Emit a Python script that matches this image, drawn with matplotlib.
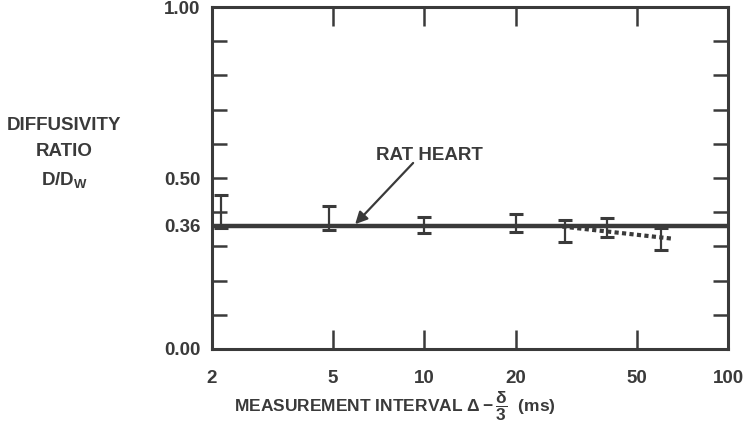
import matplotlib
matplotlib.use("Agg")
import matplotlib.pyplot as plt
import numpy as np

plt.rcParams['font.family'] = ['Liberation Sans', 'DejaVu Sans']
plt.rcParams['mathtext.fontset'] = 'custom'
plt.rcParams['mathtext.rm'] = 'Liberation Sans:bold'
plt.rcParams['mathtext.it'] = 'Liberation Sans:bold'
plt.rcParams['mathtext.bf'] = 'Liberation Sans:bold'

INK = "#3a3a3a"
FS = 13.5

# -------------------------
# Data
# -------------------------
intervals = [2.15, 4.85, 10, 20, 29, 40, 60]          # ms
upper = [0.450, 0.419, 0.387, 0.394, 0.377, 0.384, 0.353]
lower = [0.353, 0.348, 0.338, 0.341, 0.312, 0.328, 0.290]
mean_ratio = 0.36                                      # rat heart
trend_x = [28.5, 65]
trend_y = [0.358, 0.323]

x_ticks = [2, 5, 10, 20, 50, 100]
y_labels = {0.0: "0.00", 0.36: "0.36", 0.5: "0.50", 1.0: "1.00"}

upper = np.array(upper)
lower = np.array(lower)
mid = (upper + lower) / 2
half = (upper - lower) / 2

fig = plt.figure(figsize=(7.46, 4.28), dpi=100)
ax = fig.add_axes([0.2838, 0.1846, 0.9759 - 0.2838, 0.9836 - 0.1846])

ax.set_xscale('log')
ax.set_xlim(2, 100)
ax.set_ylim(0, 1)

# horizontal mean line
ax.axhline(mean_ratio, color=INK, lw=3.2, zorder=2)

# error bars
ax.errorbar(intervals, mid, yerr=half, fmt='none', ecolor=INK,
            elinewidth=1.6, capsize=5, capthick=2.2, zorder=3)

# dotted trend
ax.plot(trend_x, trend_y, color=INK, lw=3, linestyle=(0, (1, 0.8)), zorder=3)

# arrow + label
ax.annotate('', xy=(5.93, 0.365), xytext=(9.2, 0.544),
            arrowprops=dict(arrowstyle='-|>', color=INK, lw=1.6,
                            mutation_scale=18, shrinkA=0, shrinkB=0))
ax.text(10.4, 0.567, "RAT HEART", ha='center', va='center',
        fontsize=FS, fontweight='bold', color=INK)

# ticks
ax.xaxis.set_major_locator(matplotlib.ticker.FixedLocator(x_ticks))
ax.xaxis.set_minor_locator(matplotlib.ticker.NullLocator())
ax.set_xticklabels([str(t) for t in x_ticks])
ax.tick_params(axis='x', which='major', direction='in', length=14, width=1.8,
               top=True, bottom=True, labelsize=FS, pad=15, colors=INK)

y_ticks = sorted(set(np.round(np.arange(0, 1.01, 0.1), 2)) | set(y_labels))
ax.yaxis.set_major_locator(matplotlib.ticker.FixedLocator(y_ticks))
ax.set_yticklabels([y_labels.get(round(t, 2), "") for t in y_ticks])
ax.tick_params(axis='y', which='major', direction='in', length=11, width=1.8,
               left=True, right=True, labelsize=FS, pad=8, colors=INK)
for lab in ax.get_xticklabels() + ax.get_yticklabels():
    lab.set_fontweight('bold')

for sp in ax.spines.values():
    sp.set_linewidth(2.2)
    sp.set_color(INK)

# axis titles
fig.text(64 / 746, 1 - 125 / 428, "DIFFUSIVITY", ha='center', va='center',
         fontsize=FS, fontweight='bold', color=INK)
fig.text(64 / 746, 1 - 152 / 428, "RATIO", ha='center', va='center',
         fontsize=FS, fontweight='bold', color=INK)
fig.text(64 / 746, 1 - 180 / 428, r"D/D$_{\mathrm{W}}$", ha='center', va='center',
         fontsize=FS, fontweight='bold', color=INK)

fig.text(395 / 746, 1 - 406 / 428,
         r"MEASUREMENT INTERVAL $\Delta - \dfrac{\delta}{3}$  (ms)",
         ha='center', va='center', fontsize=12.5, fontweight='bold', color=INK)

fig.savefig("out.png", dpi=100)
